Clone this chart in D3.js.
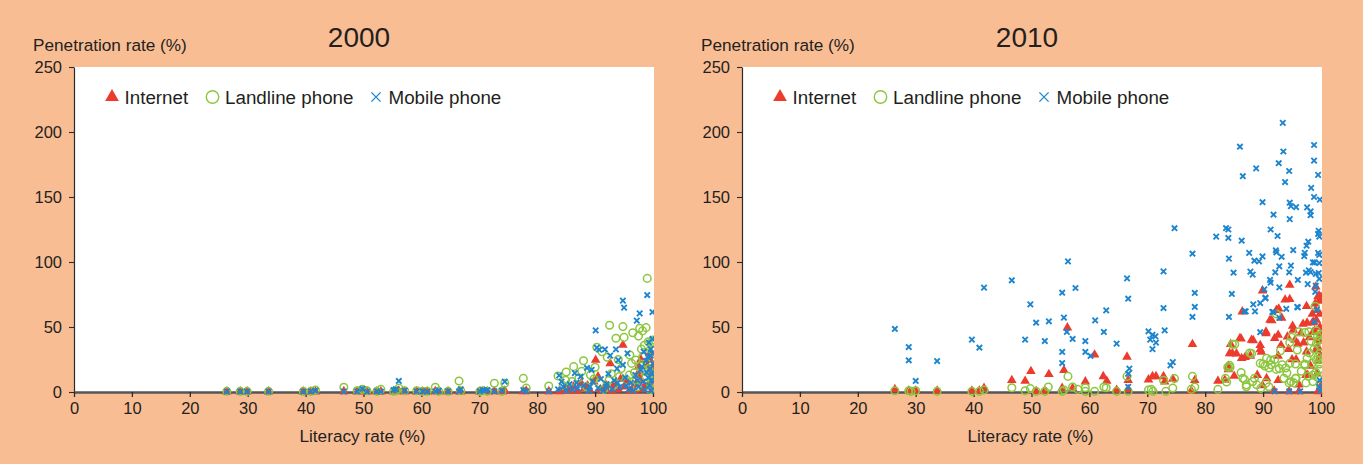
<!DOCTYPE html>
<html>
<head>
<meta charset="utf-8">
<script src="https://cdn.jsdelivr.net/npm/d3@7"></script>
<style>
  html, body { margin: 0; padding: 0; background: #f9bd94; }
  svg { display: block; font-family: "Liberation Sans", Arial, Helvetica, sans-serif; }
</style>
</head>
<body>
<svg id="chart" width="1363" height="464"></svg>
<script>
// Axis ticks and labels
const xTicks = d3.range(0, 101, 10);
const yTicks = [0, 50, 100, 150, 200, 250];
const panelTitles = ['2000', '2010'];
const seriesNames = ['Internet', 'Landline phone', 'Mobile phone'];

// [literacy rate %, penetration rate %], one array per series and year
const internet2000 = [
  [26.4,0.3],[28.7,0.3],[29.9,0.3],[33.6,0.3],[39.6,0.3],[40.9,0.3],[41.7,0.3],[46.6,0.5],[48.9,0.3],[49.8,0.5],
  [50.6,0.3],[52.3,0.3],[53.0,0.3],[55.2,0.3],[55.6,0.5],[56.1,1],[57.1,0.3],[59.2,0.3],[60.2,0.3],[61.0,0.3],
  [62.4,0.5],[63.0,0.3],[64.6,0.3],[66.5,0.5],[66.8,0.3],[70.1,0.3],[70.6,0.3],[70.9,0.3],[71.4,0.3],[72.6,0.5],
  [73.9,0.3],[74.4,1],[77.6,0.5],[78.1,1],[82.0,0.5],
  [83.8,0.5],[84.6,2],[85.5,1],[86.3,4],[87.6,6.7],[88.2,3],[89.0,2],[89.8,8],[90.1,24.6],[90.5,11.8],
  [91.2,1],[91.8,3],[92.0,5],[92.6,22],[93.3,6],[94.0,2],[94.4,10],[94.8,36.2],[95.5,8],[96.0,1],
  [96.5,3],[97.0,6],[97.4,12.6],[97.5,19.5],[97.6,15.6],[98.0,9],[98.5,4],[99.0,20],[99.2,6],[99.5,29.7],
  [99.5,24.6],[99.8,12],[99.9,2],[85.0,3],[86.9,1],[88.7,5],[90.9,2],[93.0,1],[95.1,4],[96.8,1],
  [98.2,2],[99.3,16],[99.7,8],[100,18],[97.9,25]
];
const landline2000 = [
  [26.4,0.5],[28.7,0.5],[29.9,0.5],[33.6,0.5],[39.6,0.5],[40.9,0.5],[41.7,1.5],[46.6,3.6],[48.9,1],[49.8,2],
  [50.6,1],[52.3,0.5],[53.0,2],[55.2,0.5],[55.6,1],[56.1,3],[57.1,1],[59.2,1],[60.2,0.5],[61.0,0.5],
  [62.4,3.6],[63.0,0.5],[64.6,0.5],[66.5,8.5],[66.8,1],[70.1,0.5],[70.6,1],[71.4,0.5],[72.6,6.7],[73.9,0.5],
  [74.4,6.7],[77.6,10.5],[78.1,3],[82.0,4.6],
  [83.6,12.3],[84.5,5],[85.0,15.4],[86.0,8],[86.3,19.5],[87.2,11],[88.0,24],[88.5,4],[89.2,13],[90.0,19],
  [90.3,34.4],[90.8,7],[91.2,31],[91.5,2],[92.1,26.7],[92.5,51.3],[92.8,14],[93.2,5],[93.6,41.3],[94.2,11.8],
  [94.5,18],[94.8,50.3],[95.0,42],[95.5,9],[96.0,28.5],[96.3,22],[96.5,45.6],[96.8,15],[97.0,24.6],[97.3,4],
  [97.5,43],[97.7,49],[97.8,20],[98.2,47],[98.2,27],[98.5,36],[98.6,16],[98.8,49.5],[98.8,11.8],[99.0,87.4],
  [99.1,22],[99.2,38.7],[99.4,30],[99.6,6],[99.7,38],[99.8,14],[99.9,32],[99.9,26],[100,40],[99.5,2],
  [84.9,9],[87.7,16],[89.8,10],[92.4,9],[94.0,25],[95.9,13],[97.1,9],[98.0,33],[99.3,18],[99.8,9]
];
const mobile2000 = [
  [26.4,0.3],[28.7,0.3],[29.9,0.3],[33.6,0.3],[39.6,0.3],[40.9,0.5],[41.7,1],[46.6,0.3],[48.9,0.5],[49.8,2.5],
  [50.6,0.3],[52.3,0.5],[53.0,0.3],[55.2,1.5],[55.6,2],[56.1,8.5],[57.1,1],[59.2,0.5],[60.2,0.5],[61.0,0.3],
  [62.4,0.5],[63.0,1],[64.6,0.5],[66.5,0.5],[66.8,2],[70.1,0.5],[70.6,1.5],[70.9,1],[71.4,1.5],[72.6,0.5],
  [73.9,1],[74.4,8],[77.6,1.5],[78.1,0.5],[82.0,0.5],
  [83.6,2],[83.8,12.8],[84.5,4],[85.0,1],[85.6,6],[86.1,2],[86.5,14.5],[87.0,3],[87.5,11.8],[88.0,5],
  [88.6,18.5],[88.9,1],[89.4,17],[89.6,8],[90.1,47.4],[90.3,34.1],[90.5,3],[90.7,32.5],[91.0,10],[91.4,1],
  [91.7,32.8],[92.0,6],[92.3,14],[92.6,28],[93.0,2],[93.3,9],[93.6,32.8],[93.8,18],[94.0,24.6],[94.3,4],
  [94.8,70.3],[94.8,20.8],[95.0,64.9],[95.2,11],[95.6,29.7],[95.8,2],[96.2,7],[96.6,1],[97.0,13],[97.2,54.9],
  [97.5,4],[97.7,60.5],[97.9,17],[98.1,19.5],[98.3,8],[98.4,31],[98.6,2],[98.8,24],[99.0,74.6],[99.1,27],
  [99.2,11],[99.4,5],[99.5,17.7],[99.6,33],[99.7,1],[99.8,9],[99.9,61.5],[99.9,40.8],[100,22],[99.8,14],[99.6,28],
  [84.2,8],[86.8,7],[89.1,4],[91.9,4],[93.9,7],[95.4,5],[97.3,9],[98.9,15],[99.3,38],[100,30]
];

const internet2010 = [
  [26.4,2],[28.8,1],[30.0,1],[33.7,1],[39.7,1],[41.0,1],[41.8,3],[46.6,9],[48.9,8.5],[49.9,16],
  [50.8,0.5],[52.3,1],[53.0,13.6],[55.3,3],[55.6,16.7],[56.2,49.5],[57.1,3],[59.3,8],[60.9,28.7],[62.4,12],
  [63.0,8.5],[64.7,1.5],[66.5,27],[66.7,9],[66.7,2],[70.2,9.5],[70.9,12],[71.5,12],[72.8,12],[73.0,8],
  [74.4,10],[77.8,36.7],[78.2,9],[77.6,1],
  [82.2,8.5],[83.4,9.2],[84.0,20],[84.0,17.4],[84.2,29.7],[84.4,36.7],[84.7,29.7],[85.0,12.3],[85.4,29.5],[86.0,41.3],
  [86.2,41],[86.3,26],[86.4,61.8],[86.9,26.8],[87.8,27.8],[88.0,40],[88.3,39.7],[89.0,13],[89.5,36],[89.5,32.8],
  [89.7,30.8],[89.9,78],[89.9,5],[90.5,46.4],[90.5,45],[90.6,10.5],[91.2,55.4],[91.5,55],[91.9,1],[92.0,41.3],
  [92.3,63],[92.6,43.8],[92.6,27.8],[92.6,9],[92.7,64],[93.1,36],[93.2,57],[93.8,71],[94.2,42.5],[94.4,33],
  [94.5,0.5],[94.6,82.3],[94.6,71.3],[95.0,25],[95.1,50.8],[95.2,47.7],[95.7,25],[96.0,37],[96.2,5.6],[96.2,0.5],
  [96.9,52.3],[97.4,13],[97.5,66],[97.5,31],[97.6,53.3],[97.7,13],[98.5,53.3],[98.5,60],[98.6,46],[98.7,54],
  [99.0,68],[99.1,81],[99.1,63],[99.2,55.4],[99.2,32.5],[99.3,14],[99.5,73.6],[99.5,23.6],[99.5,0.5],[99.6,40],
  [99.7,74],[99.7,70],[100,73],[99.9,4],[99.8,50],
  [95.5,40],[96.5,45],[97.0,38],[98.0,42],[98.9,47],[99.4,35],[99.8,60],[100,45],[99.9,28],[98.2,20]
];
const landline2010 = [
  [26.4,1],[28.8,1],[29.2,0.5],[30.0,1],[33.7,0.5],[39.7,0.5],[41.0,0.5],[41.8,1.5],[46.6,3.3],[48.9,1],
  [49.8,2.6],[50.8,0.5],[52.3,0.5],[52.9,3.8],[55.3,0.5],[55.6,1.5],[56.3,12],[57.1,3.8],[58.0,2],[59.3,3.3],
  [59.3,0.5],[60.9,0.5],[62.5,3.8],[62.9,3.3],[64.7,0.5],[66.5,12],[66.7,0.5],[70.2,1.5],[70.7,2],[71.0,0.5],
  [72.8,9],[73.2,0.5],[74.4,3],[74.7,10.3],[77.8,12],[77.6,2],[78.2,3.8],
  [82.2,2],[83.7,7.7],[83.5,10.5],[83.9,19],[84.2,20.5],[84.3,19],[84.7,36.7],[85.1,36.7],[86.2,15],[86.5,10.5],
  [86.8,9.5],[87.1,5.5],[87.1,4],[87.7,30],[88.0,29.5],[88.2,8],[88.5,10.5],[88.9,5.5],[89.5,22],[89.6,2.8],
  [90.0,21.5],[90.3,20],[90.5,7],[90.6,26],[91.0,4],[91.0,18.5],[91.3,24.6],[91.4,21],[92.0,25],[92.3,17.4],
  [92.3,60],[92.8,18],[93.0,31.8],[93.3,21],[93.6,10.5],[93.9,18.5],[94.1,14.6],[94.5,7],[94.6,22],[94.6,38],
  [94.8,8],[94.9,42],[95.3,7],[95.6,21.5],[95.6,10.5],[95.7,10.5],[95.9,32.3],[96.2,46.4],[97.2,45.8],[97.2,21.5],
  [97.2,20.5],[97.4,7],[97.6,26],[97.9,46.4],[98.4,22],[98.6,13],[98.6,8],[99.0,66],[99.2,47],[99.2,37.4],
  [99.2,24.6],[99.4,43],[99.4,11.3],[99.5,27],[99.7,21.5],[99.7,17.4],[99.8,30],[99.9,35],[99.9,5],
  [98.0,30],[98.8,33],[99.6,40],[100,25],[99.9,44],[96.6,16],[97.8,12],[99.1,15],[100,12],[98.3,39]
];
const mobile2010 = [
  [26.4,48.5],[28.8,34.6],[28.8,24.4],[30.0,8.5],[33.7,23.8],[39.7,40.3],[41.0,34.1],[41.8,80.3],[46.6,85.9],[48.9,40.3],
  [49.8,67.4],[50.8,53.3],[52.3,39.2],[53.0,54.4],[55.3,76.4],[55.3,30.8],[55.3,22.3],[55.6,57.2],[56.1,46.2],[56.3,100.5],
  [57.1,40.8],[57.6,80],[59.3,39.2],[59.3,30.8],[60.2,27.7],[61.0,55.1],[62.5,46.2],[62.9,62.8],[64.7,37.2],[66.5,87.4],
  [66.7,71.8],[66.9,18],[66.7,14],[66.7,4],[70.2,46.7],[70.5,40.3],[70.9,44],[70.9,33],[71.4,42.8],[71.5,38],
  [72.8,92.8],[72.8,64.6],[73.0,47.4],[74.0,20.5],[74.4,23],[74.7,126],[77.8,106.4],[78.2,76.2],[77.8,57.7],[78.2,65.4],
  [93.4,207],[86.0,188.7],[98.8,190],[93.5,185],[98.8,178],[92.7,176],[88.8,172],[86.5,166],[94.5,170],[99.5,167],
  [93.8,161.5],[98.3,157],[98.8,150],[99.8,148],[89.9,146],[94.6,145.6],[94.8,143],[95.7,142.3],[91.8,136.4],[97.6,142],
  [98.2,139],[94.6,133],[98.2,136],[83.6,126],[84.0,125],[81.9,119.5],[84.0,118.5],[86.3,116.4],[91.3,125],[92.5,120],
  [99.6,124],[99.5,121.6],[99.7,119.5],[97.8,115.6],[97.5,112.5],[92.2,109],[92.3,107.4],[95.2,109.2],[97.2,107],[97.1,104.5],
  [99.5,107],[99.7,105.4],[87.6,107],[93.2,104],[89.9,104.3],[88.5,101],[89.3,100.5],[84.1,102.6],[92.8,96.7],[94.8,97.2],
  [98.6,99.7],[98.9,99.7],[99.7,99.2],[84.9,91.8],[87.8,92.6],[88.2,90.3],[92.1,92.1],[94.5,92.1],[97.4,91.8],[98.2,92.3],
  [99.1,90.8],[99.6,91.5],[97.9,93.6],[96.0,86.2],[91.2,86.2],[91.3,84.1],[97.7,83],[99.1,81.8],[99.7,87],[92.8,80.5],
  [90.2,79],[90.4,72.6],[84.6,75.4],[84.1,57.7],[88.3,67.4],[89.5,68.4],[86.8,62],[87.0,62],[88.6,62],[91.8,61.5],
  [94.0,64],[96.0,65],[92.8,57],[99.3,63.3],[98.9,54],[89.5,46],[99.7,4],[92.0,0.5],[94.5,0.5],[96.4,0.5],
  [99.9,1],[99.8,9],[95.9,65.5],[99.0,77],[90.4,72],[91.6,61.6]
];

const seriesColors = ['#ec3b2c', '#8cc63f', '#1c85cf'];

const svg = d3.select('#chart');
const width = +svg.attr('width');
const height = +svg.attr('height');

svg.append('rect')
  .attr('width', width)
  .attr('height', height)
  .attr('fill', '#f9bd94');

/**
 * Draw one marker of a series at (0,0) of the given selection
 */
function drawMarker(sel, kind, big) {
  if (kind === 0) {
    sel.append('path')
      .attr('d', d3.symbol(d3.symbolTriangle, big ? 82 : 40)())
      .attr('fill', seriesColors[0]);
  } else if (kind === 1) {
    sel.append('circle')
      .attr('r', big ? 6.2 : 3.8)
      .attr('fill', 'none')
      .attr('stroke', seriesColors[1])
      .attr('stroke-width', big ? 1.4 : 1.5);
  } else {
    const s = big ? 4.6 : 2.7;
    sel.append('path')
      .attr('d', `M${-s},${-s}L${s},${s}M${-s},${s}L${s},${-s}`)
      .attr('fill', 'none')
      .attr('stroke', seriesColors[2])
      .attr('stroke-width', big ? 1.3 : 1.9);
  }
}

/**
 * Draw one panel (title, axes, legend and points)
 */
function drawPanel(index, left, series) {
  const x = d3.scaleLinear().domain([0, 100]).range([left, left + 579]);
  const y = d3.scaleLinear().domain([0, 250]).range([392, 67]);
  const g = svg.append('g');

  // White plot area
  g.append('rect')
    .attr('x', x(0))
    .attr('y', y(250))
    .attr('width', x(100) - x(0) + 1)
    .attr('height', y(0) - y(250))
    .attr('fill', '#ffffff');

  // Y axis
  const yAxis = g.append('g')
    .attr('transform', `translate(${x(0)},0)`)
    .call(d3.axisLeft(y).tickValues(yTicks).tickSize(5).tickSizeOuter(0).tickPadding(7));
  yAxis.select('.domain').attr('stroke', '#2b2b2b').attr('stroke-width', 1.2);
  yAxis.selectAll('.tick line').attr('stroke', '#2b2b2b').attr('stroke-width', 1.1);
  yAxis.selectAll('text').attr('font-size', 16.5).attr('fill', '#231f20')
    .attr('font-family', '"Liberation Sans", Arial, sans-serif');

  // X axis
  const xAxis = g.append('g')
    .attr('transform', `translate(0,${y(0)})`)
    .call(d3.axisBottom(x).tickValues(xTicks).tickSize(5).tickSizeOuter(0).tickPadding(5));
  xAxis.select('.domain').attr('stroke', '#555555').attr('stroke-width', 2.6);
  xAxis.selectAll('.tick line').attr('stroke', '#2b2b2b').attr('stroke-width', 1.3);
  xAxis.selectAll('text').attr('font-size', 16.5).attr('fill', '#231f20')
    .attr('font-family', '"Liberation Sans", Arial, sans-serif');

  // Titles
  g.append('text')
    .attr('x', left + 285)
    .attr('y', 47)
    .attr('text-anchor', 'middle')
    .attr('font-size', 28)
    .attr('fill', '#231f20')
    .text(panelTitles[index]);

  g.append('text')
    .attr('x', left - 41)
    .attr('y', 51)
    .attr('font-size', 17.2)
    .attr('fill', '#231f20')
    .text('Penetration rate (%)');

  g.append('text')
    .attr('x', x(50) - 1)
    .attr('y', 442)
    .attr('text-anchor', 'middle')
    .attr('font-size', 17.2)
    .attr('fill', '#231f20')
    .text('Literacy rate (%)');

  // Points, clipped at the right edge of the plot area
  const clipId = 'clip' + index;
  g.append('clipPath').attr('id', clipId)
    .append('rect')
    .attr('x', x(0) - 20)
    .attr('y', 0)
    .attr('width', x(100) - x(0) + 21)
    .attr('height', height);

  const pts = g.append('g').attr('clip-path', `url(#${clipId})`);
  series.forEach((data, k) => {
    pts.append('g')
      .selectAll('g')
      .data(data)
      .join('g')
      .attr('transform', d => `translate(${x(d[0])},${y(d[1])})`)
      .each(function () { drawMarker(d3.select(this), k, false); });
  });

  // Legend
  const legendX = [38, 138.5, 302];
  const legend = g.append('g').attr('transform', `translate(${left},97)`);
  seriesNames.forEach((name, k) => {
    const item = legend.append('g').attr('transform', `translate(${legendX[k]},0)`);
    drawMarker(item.append('g'), k, true);
    item.append('text')
      .attr('x', 12.5)
      .attr('y', 7)
      .attr('font-size', 18.8)
      .attr('fill', '#231f20')
      .text(name);
  });
}

drawPanel(0, 74, [internet2000, landline2000, mobile2000]);
drawPanel(1, 742, [internet2010, landline2010, mobile2010]);
</script>
</body>
</html>
